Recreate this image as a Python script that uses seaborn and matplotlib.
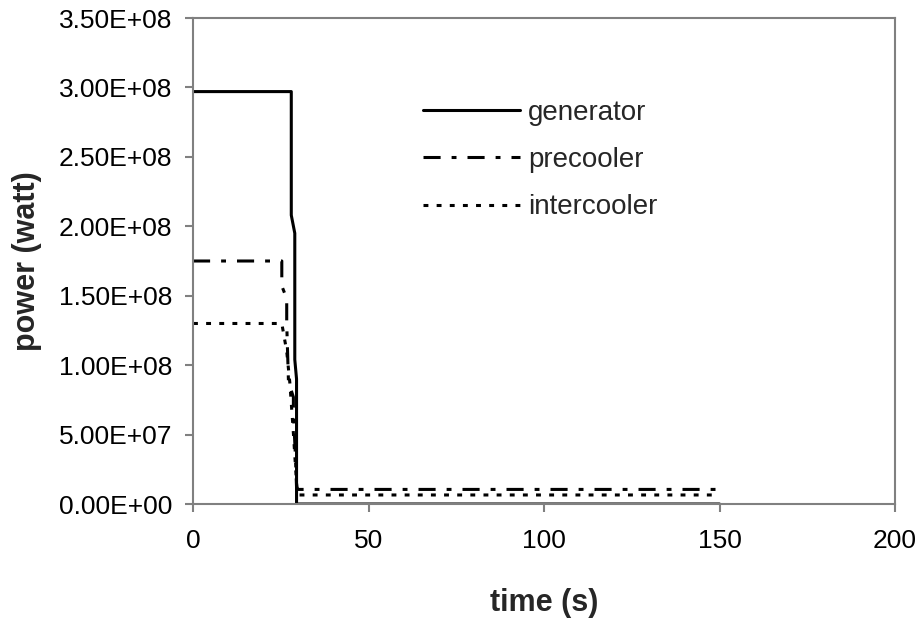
import pandas as pd
import numpy as np
import matplotlib
matplotlib.use('Agg')
import matplotlib.pyplot as plt
from matplotlib.ticker import FuncFormatter, MultipleLocator
import seaborn as sns

# данные
gen_t = [0, 28, 28, 29, 29, 29.5, 29.5, 150]
gen_p = [2.97e8, 2.97e8, 2.08e8, 1.95e8, 1.04e8, 0.90e8, 0, 0]

pre_t = [0, 25.3, 25.3, 26.7, 26.7, 27.2, 28.6, 28.6, 29.1, 29.5, 29.9, 150]
pre_p = [1.75e8, 1.75e8, 1.57e8, 1.48e8, 1.30e8, 0.88e8, 0.77e8, 0.65e8, 0.39e8, 0.12e8, 1.05e7, 1.05e7]

int_t = [0, 25.3, 26.7, 27.6, 28.6, 29.5, 29.9, 150]
int_p = [1.30e8, 1.30e8, 1.10e8, 0.87e8, 0.51e8, 0.15e8, 6.5e6, 6.5e6]

sns.set_style('white')
plt.rcParams['font.family'] = ['Liberation Sans', 'DejaVu Sans']

fig = plt.figure(figsize=(9.18, 6.21), dpi=100)
ax = fig.add_axes([193 / 918, 1 - 504 / 621, 702 / 918, 486 / 621])

gen = pd.DataFrame({'t': gen_t, 'p': gen_p})
pre = pd.DataFrame({'t': pre_t, 'p': pre_p})
inter = pd.DataFrame({'t': int_t, 'p': int_p})

lw = 2.2
sns.lineplot(data=gen, x='t', y='p', ax=ax, sort=False, estimator=None,
             color='black', linewidth=lw, label='generator')
sns.lineplot(data=pre, x='t', y='p', ax=ax, sort=False, estimator=None,
             color='black', linewidth=lw, linestyle=(0, (5.6, 3.6, 1.6, 3.6)),
             label='precooler')
sns.lineplot(data=inter, x='t', y='p', ax=ax, sort=False, estimator=None,
             color='black', linewidth=lw, linestyle=(0, (1.6, 2.7)),
             label='intercooler')

ax.set_xlim(0, 200)
ax.set_ylim(0, 3.5e8)
ax.xaxis.set_major_locator(MultipleLocator(50))
ax.yaxis.set_major_locator(MultipleLocator(0.5e8))
ax.yaxis.set_major_formatter(FuncFormatter(lambda v, p: f'{v:.2E}'))

for s in ax.spines.values():
    s.set_color('#808080')
    s.set_linewidth(1.5)
ax.tick_params(axis='both', direction='out', length=6, width=1.5, color='#808080',
               labelsize=19, labelcolor='black', left=True, bottom=True)
ax.tick_params(axis='y', pad=9)
ax.tick_params(axis='x', pad=12)

ax.set_xlabel('time (s)', fontsize=22, fontweight='bold', labelpad=25)
ax.set_ylabel('power (watt)', fontsize=22, fontweight='bold', labelpad=12)

ax.legend(loc='upper left', bbox_to_anchor=(0.3276, 0.832), frameon=False,
          borderpad=0, borderaxespad=0, fontsize=20, handlelength=3.5,
          handletextpad=0.29, labelspacing=0.77)

plt.savefig('out.png', dpi=100)
